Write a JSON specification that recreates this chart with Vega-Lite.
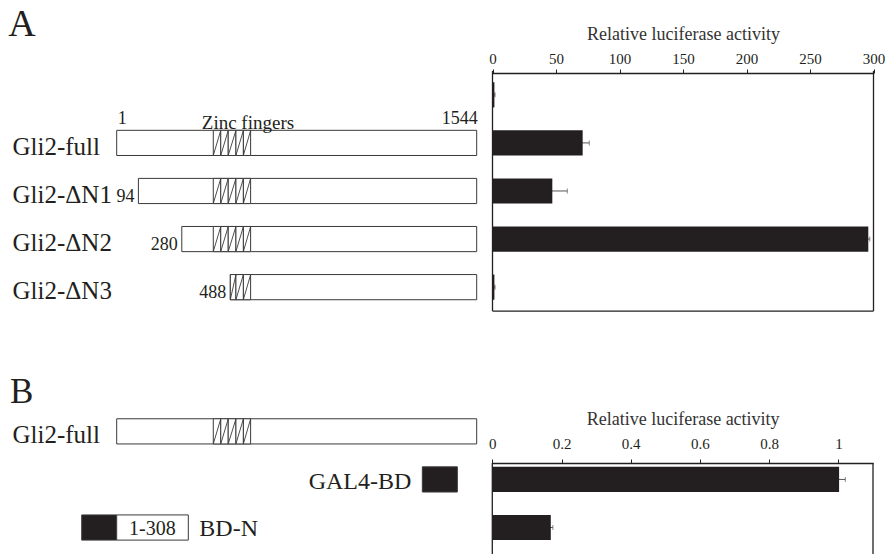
{
  "$schema": "https://vega.github.io/schema/vega-lite/v6.json",
  "width": 891,
  "height": 554,
  "autosize": {"type": "none"},
  "padding": 0,
  "background": "white",
  "config": {
    "view": {"stroke": null},
    "font": "Liberation Serif",
    "text": {"font": "Liberation Serif", "color": "#231f20"},
    "axis": {
      "labelFont": "Liberation Serif",
      "titleFont": "Liberation Serif",
      "grid": false,
      "titleFontWeight": "normal",
      "labelColor": "#231f20",
      "titleColor": "#333333",
      "domainColor": "#231f20",
      "tickColor": "#231f20"
    }
  },
  "datasets": {
    "boxes": [
      {"row": "A:Gli2-full", "start": 1, "end": 1544, "part": "Gli2"},
      {"row": "A:Gli2-ΔN1", "start": 94, "end": 1544, "part": "Gli2"},
      {"row": "A:Gli2-ΔN2", "start": 280, "end": 1544, "part": "Gli2"},
      {"row": "A:Gli2-ΔN3", "start": 488, "end": 1544, "part": "Gli2"},
      {"row": "B:Gli2-full", "start": 1, "end": 1544, "part": "Gli2"},
      {"row": "B:GAL4-BD", "start": 1311, "end": 1461, "part": "GAL4"},
      {"row": "B:BD-N", "start": -149, "end": 1, "part": "GAL4"},
      {"row": "B:BD-N", "start": 1, "end": 308, "part": "Gli2"}
    ],
    "zinc": [
      {"row": "A:Gli2-full", "start": 415, "end": 447},
      {"row": "A:Gli2-full", "start": 447, "end": 479},
      {"row": "A:Gli2-full", "start": 479, "end": 512},
      {"row": "A:Gli2-full", "start": 512, "end": 544},
      {"row": "A:Gli2-full", "start": 544, "end": 575},
      {"row": "A:Gli2-ΔN1", "start": 415, "end": 447},
      {"row": "A:Gli2-ΔN1", "start": 447, "end": 479},
      {"row": "A:Gli2-ΔN1", "start": 479, "end": 512},
      {"row": "A:Gli2-ΔN1", "start": 512, "end": 544},
      {"row": "A:Gli2-ΔN1", "start": 544, "end": 575},
      {"row": "A:Gli2-ΔN2", "start": 415, "end": 447},
      {"row": "A:Gli2-ΔN2", "start": 447, "end": 479},
      {"row": "A:Gli2-ΔN2", "start": 479, "end": 512},
      {"row": "A:Gli2-ΔN2", "start": 512, "end": 544},
      {"row": "A:Gli2-ΔN2", "start": 544, "end": 575},
      {"row": "A:Gli2-ΔN3", "start": 488, "end": 512},
      {"row": "A:Gli2-ΔN3", "start": 512, "end": 544},
      {"row": "A:Gli2-ΔN3", "start": 544, "end": 575},
      {"row": "B:Gli2-full", "start": 415, "end": 447},
      {"row": "B:Gli2-full", "start": 447, "end": 479},
      {"row": "B:Gli2-full", "start": 479, "end": 512},
      {"row": "B:Gli2-full", "start": 512, "end": 544},
      {"row": "B:Gli2-full", "start": 544, "end": 575}
    ],
    "lucA": [
      {"row": "A:vector", "value": 1.5, "err": 0.5},
      {"row": "A:Gli2-full", "value": 71, "err": 5.2},
      {"row": "A:Gli2-ΔN1", "value": 47.1, "err": 11.8},
      {"row": "A:Gli2-ΔN2", "value": 295.9, "err": 1.2},
      {"row": "A:Gli2-ΔN3", "value": 1.5, "err": 0.5}
    ],
    "lucB": [
      {"row": "B:GAL4-BD", "value": 1.002, "err": 0.018},
      {"row": "B:BD-N", "value": 0.169, "err": 0.006}
    ]
  },
  "layer": [
    {
      "layer": [
        {
          "data": {"name": "boxes"},
          "mark": {"type": "rect", "stroke": "#3a3a3a", "strokeWidth": 1},
          "encoding": {
            "x": {"field": "start", "type": "quantitative", "scale": {"domain": [1, 1544], "range": [116.7, 476.7], "nice": false, "zero": false}, "axis": null},
            "x2": {"field": "end"},
            "y": {
              "field": "row", "type": "nominal",
              "scale": {
                "domain": ["A:vector", "A:Gli2-full", "A:Gli2-ΔN1", "A:Gli2-ΔN2", "A:Gli2-ΔN3", "gap1", "gap2", "B:Gli2-full", "B:GAL4-BD", "B:BD-N"],
                "paddingInner": 0.4764, "paddingOuter": 1.0393, "align": 0.8554, "round": false
              },
              "axis": {
                "orient": "left", "domain": false, "ticks": false, "title": null,
                "labelAlign": "left", "labelPadding": -12, "labelFontSize": 25, "labelOffset": 4,
                "labelOverlap": false, "labelLimit": 300,
                "labelExpr": "indexof(['A:Gli2-full','A:Gli2-ΔN1','A:Gli2-ΔN2','A:Gli2-ΔN3','B:Gli2-full'], datum.value) >= 0 ? slice(datum.value, 2) : ''"
              }
            },
            "fill": {"field": "part", "type": "nominal", "scale": {"domain": ["Gli2", "GAL4"], "range": ["#ffffff", "#231f20"]}, "legend": null}
          }
        },
        {
          "data": {"name": "zinc"},
          "mark": {"type": "rect", "fill": "#ffffff", "stroke": "#3a3a3a", "strokeWidth": 1},
          "encoding": {
            "x": {"field": "start", "type": "quantitative", "axis": null},
            "x2": {"field": "end"},
            "y": {"field": "row", "type": "nominal"}
          }
        },
        {
          "data": {"name": "zinc"},
          "mark": {"type": "rule", "stroke": "#3a3a3a", "strokeWidth": 0.9, "yOffset": 12.5, "y2Offset": -12.5},
          "encoding": {
            "x": {"field": "start", "type": "quantitative", "axis": null},
            "x2": {"field": "end"},
            "y": {"field": "row", "type": "nominal"},
            "y2": {"field": "row"}
          }
        },
        {
          "data": {"values": [
            {"row": "A:Gli2-ΔN1", "pos": 94, "label": "94"},
            {"row": "A:Gli2-ΔN2", "pos": 280, "label": "280"},
            {"row": "A:Gli2-ΔN3", "pos": 488, "label": "488"}
          ]},
          "mark": {"type": "text", "align": "right", "baseline": "alphabetic", "dx": -4, "dy": 11, "fontSize": 18},
          "encoding": {
            "x": {"field": "pos", "type": "quantitative", "axis": null},
            "y": {"field": "row", "type": "nominal"},
            "text": {"field": "label"}
          }
        },
        {
          "data": {"values": [{"row": "A:Gli2-full", "pos": 1, "label": "1"}]},
          "mark": {"type": "text", "align": "left", "baseline": "alphabetic", "dx": 1, "dy": -18.5, "fontSize": 18},
          "encoding": {
            "x": {"field": "pos", "type": "quantitative", "axis": null},
            "y": {"field": "row", "type": "nominal"},
            "text": {"field": "label"}
          }
        },
        {
          "data": {"values": [{"row": "A:Gli2-full", "pos": 1544, "label": "1544"}]},
          "mark": {"type": "text", "align": "right", "baseline": "alphabetic", "dx": 1, "dy": -18.5, "fontSize": 18},
          "encoding": {
            "x": {"field": "pos", "type": "quantitative", "axis": null},
            "y": {"field": "row", "type": "nominal"},
            "text": {"field": "label"}
          }
        },
        {
          "data": {"values": [{"row": "A:Gli2-full", "pos": 495, "label": "Zinc fingers"}]},
          "mark": {"type": "text", "align": "center", "baseline": "alphabetic", "dx": 16, "dy": -14, "fontSize": 19},
          "encoding": {
            "x": {"field": "pos", "type": "quantitative", "axis": null},
            "y": {"field": "row", "type": "nominal"},
            "text": {"field": "label"}
          }
        },
        {
          "data": {"values": [{"row": "B:GAL4-BD", "pos": 1311, "label": "GAL4-BD"}]},
          "mark": {"type": "text", "align": "right", "baseline": "middle", "dx": -11, "dy": 3, "fontSize": 24},
          "encoding": {
            "x": {"field": "pos", "type": "quantitative", "axis": null},
            "y": {"field": "row", "type": "nominal"},
            "text": {"field": "label"}
          }
        },
        {
          "data": {"values": [{"row": "B:BD-N", "pos": 308, "label": "BD-N"}]},
          "mark": {"type": "text", "align": "left", "baseline": "middle", "dx": 11, "dy": 1, "fontSize": 24},
          "encoding": {
            "x": {"field": "pos", "type": "quantitative", "axis": null},
            "y": {"field": "row", "type": "nominal"},
            "text": {"field": "label"}
          }
        },
        {
          "data": {"values": [{"row": "B:BD-N", "pos": 154, "label": "1-308"}]},
          "mark": {"type": "text", "align": "center", "baseline": "middle", "dy": 1, "fontSize": 20},
          "encoding": {
            "x": {"field": "pos", "type": "quantitative", "axis": null},
            "y": {"field": "row", "type": "nominal"},
            "text": {"field": "label"}
          }
        },
        {
          "data": {"values": [{"row": "A:vector", "label": "A"}]},
          "mark": {"type": "text", "align": "left", "baseline": "alphabetic", "dy": -59, "fontSize": 38},
          "encoding": {
            "x": {"datum": -463.6, "type": "quantitative", "axis": null},
            "y": {"field": "row", "type": "nominal"},
            "text": {"field": "label"}
          }
        },
        {
          "data": {"values": [{"row": "gap2", "label": "B"}]},
          "mark": {"type": "text", "align": "left", "baseline": "alphabetic", "dy": 20, "fontSize": 35},
          "encoding": {
            "x": {"datum": -456.3, "type": "quantitative", "axis": null},
            "y": {"field": "row", "type": "nominal"},
            "text": {"field": "label"}
          }
        }
      ]
    },
    {
      "layer": [
        {
          "data": {"name": "lucA"},
          "mark": {"type": "errorbar", "color": "#555555", "thickness": 1, "size": 5, "ticks": true},
          "encoding": {
            "x": {"field": "value", "type": "quantitative", "title": "Relative luciferase activity", "scale": {"domain": [0, 300], "range": [492.5, 873.5], "nice": false, "zero": false}},
            "xError": {"field": "err"},
            "y": {"field": "row", "type": "nominal"}
          }
        },
        {
          "data": {"name": "lucA"},
          "mark": {"type": "bar", "fill": "#231f20"},
          "encoding": {
            "x": {
              "field": "value", "type": "quantitative", "title": "Relative luciferase activity",
              "scale": {"domain": [0, 300], "range": [492.5, 873.5], "nice": false, "zero": false},
              "axis": {
                "orient": "top", "offset": -73, "title": "Relative luciferase activity",
                "values": [0, 50, 100, 150, 200, 250, 300],
                "titleFontSize": 18, "labelFontSize": 15, "tickSize": 4, "labelPadding": 3, "titlePadding": 8,
                "domainWidth": 1.3, "tickWidth": 1, "labelFlush": false, "labelOverlap": false
              }
            },
            "y": {"field": "row", "type": "nominal"}
          }
        },
        {
          "data": {"values": [{}]},
          "mark": {"type": "rule", "color": "#231f20", "strokeWidth": 1.3, "yOffset": -23.9, "y2Offset": 23.9},
          "encoding": {
            "x": {"datum": 0, "type": "quantitative"},
            "y": {"datum": "A:vector", "type": "nominal"},
            "y2": {"datum": "A:Gli2-ΔN3"}
          }
        },
        {
          "data": {"values": [{}]},
          "mark": {"type": "rule", "color": "#231f20", "strokeWidth": 1.3, "yOffset": -23.9, "y2Offset": 23.9},
          "encoding": {
            "x": {"datum": 300, "type": "quantitative"},
            "y": {"datum": "A:vector", "type": "nominal"},
            "y2": {"datum": "A:Gli2-ΔN3"}
          }
        },
        {
          "data": {"values": [{}]},
          "mark": {"type": "rule", "color": "#231f20", "strokeWidth": 1.3, "yOffset": 23.9},
          "encoding": {
            "x": {"datum": 0, "type": "quantitative"},
            "x2": {"datum": 300},
            "y": {"datum": "A:Gli2-ΔN3", "type": "nominal"}
          }
        }
      ]
    },
    {
      "layer": [
        {
          "data": {"name": "lucB"},
          "mark": {"type": "errorbar", "color": "#555555", "thickness": 1, "size": 5, "ticks": true},
          "encoding": {
            "x": {"field": "value", "type": "quantitative", "title": "Relative luciferase activity", "scale": {"domain": [0, 1.1], "range": [492.3, 873], "nice": false, "zero": false}},
            "xError": {"field": "err"},
            "y": {"field": "row", "type": "nominal"}
          }
        },
        {
          "data": {"name": "lucB"},
          "mark": {"type": "bar", "fill": "#231f20"},
          "encoding": {
            "x": {
              "field": "value", "type": "quantitative", "title": "Relative luciferase activity",
              "scale": {"domain": [0, 1.1], "range": [492.3, 873], "nice": false, "zero": false},
              "axis": {
                "orient": "top", "offset": -463, "title": "Relative luciferase activity",
                "values": [0, 0.2, 0.4, 0.6, 0.8, 1], "format": "~g",
                "titleFontSize": 18, "labelFontSize": 15, "tickSize": 4, "labelPadding": 8, "titlePadding": 8,
                "domainWidth": 1.3, "tickWidth": 1, "labelFlush": false, "labelOverlap": false
              }
            },
            "y": {"field": "row", "type": "nominal"}
          }
        },
        {
          "data": {"values": [{}]},
          "mark": {"type": "rule", "color": "#231f20", "strokeWidth": 1.3, "yOffset": -16.4, "y2Offset": 40},
          "encoding": {
            "x": {"datum": 0, "type": "quantitative"},
            "y": {"datum": "B:GAL4-BD", "type": "nominal"},
            "y2": {"datum": "B:BD-N"}
          }
        },
        {
          "data": {"values": [{}]},
          "mark": {"type": "rule", "color": "#231f20", "strokeWidth": 1.3, "yOffset": -16.4, "y2Offset": 40},
          "encoding": {
            "x": {"datum": 1.1, "type": "quantitative"},
            "y": {"datum": "B:GAL4-BD", "type": "nominal"},
            "y2": {"datum": "B:BD-N"}
          }
        }
      ]
    }
  ],
  "resolve": {"scale": {"x": "independent"}}
}
